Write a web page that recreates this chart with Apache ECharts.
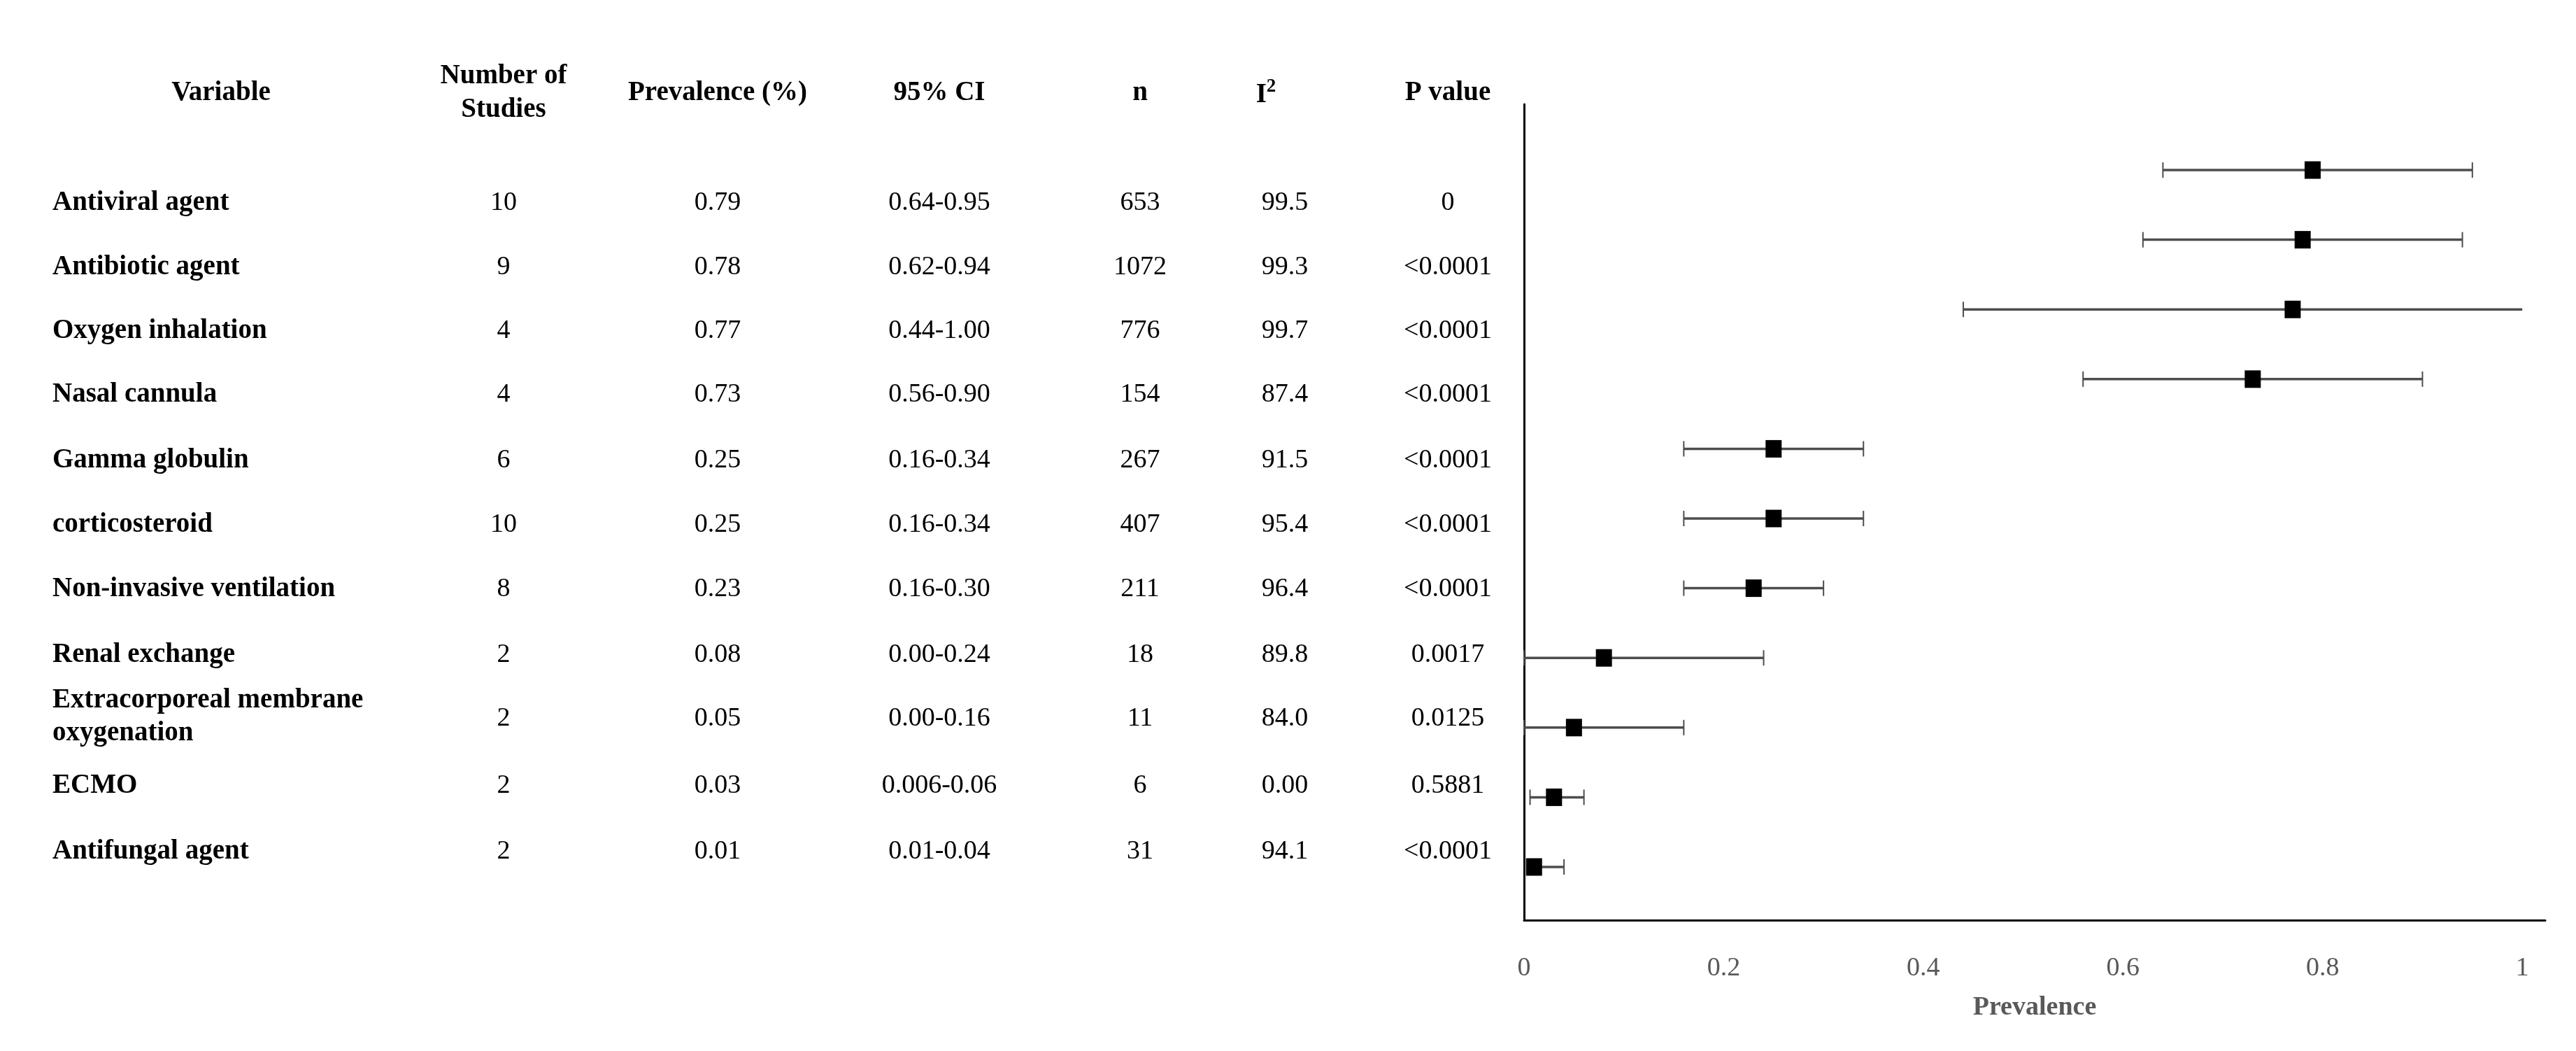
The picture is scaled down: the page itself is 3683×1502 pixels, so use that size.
<!DOCTYPE html>
<html>
<head>
<meta charset="utf-8">
<script src="https://cdn.jsdelivr.net/npm/echarts@6/dist/echarts.min.js"></script>
<style>
html,body{margin:0;padding:0;background:#fff;}
#chart{width:3683px;height:1502px;}
</style>
</head>
<body>
<div id="chart"></div>
<script>
// ---- data ----
const variables = ['Antiviral agent', 'Antibiotic agent', 'Oxygen inhalation', 'Nasal cannula', 'Gamma globulin', 'corticosteroid', 'Non-invasive ventilation', 'Renal exchange', 'Extracorporeal membrane\noxygenation', 'ECMO', 'Antifungal agent'];
const studies = [10, 9, 4, 4, 6, 10, 8, 2, 2, 2, 2];
const prevalence = [0.79, 0.78, 0.77, 0.73, 0.25, 0.25, 0.23, 0.08, 0.05, 0.03, 0.01];
const ciLow = [0.64, 0.62, 0.44, 0.56, 0.16, 0.16, 0.16, 0.00, 0.00, 0.006, 0.01];
const ciHigh = [0.95, 0.94, 1.00, 0.90, 0.34, 0.34, 0.30, 0.24, 0.16, 0.06, 0.04];
const ciText = ['0.64-0.95', '0.62-0.94', '0.44-1.00', '0.56-0.90', '0.16-0.34', '0.16-0.34', '0.16-0.30', '0.00-0.24', '0.00-0.16', '0.006-0.06', '0.01-0.04'];
const nTotal = [653, 1072, 776, 154, 267, 407, 211, 18, 11, 6, 31];
const i2Text = ['99.5', '99.3', '99.7', '87.4', '91.5', '95.4', '96.4', '89.8', '84.0', '0.00', '94.1'];
const pText = ['0', '<0.0001', '<0.0001', '<0.0001', '<0.0001', '<0.0001', '<0.0001', '0.0017', '0.0125', '0.5881', '<0.0001'];
const xTicks = [0, 0.2, 0.4, 0.6, 0.8, 1];
const headers = ['Variable', 'Number of\nStudies', 'Prevalence (%)', '95% CI', 'n', 'I2', 'P value'];

// ---- layout (positions only) ----
const FONT = 'Liberation Serif, Times New Roman, serif';
const colX = [75, 720, 1026, 1343, 1630, 1837, 2070];
const headerX = [316, 720, 1026, 1343, 1630, 1810, 2070];
const headerY = 133;
const rowY = [290, 382, 473, 564, 658, 750, 842, 936, 1027, 1123, 1217];

const graphics = [];
function txt(x, y, text, opts) {
  graphics.push({
    type: 'text', x: x, y: y, silent: true,
    style: Object.assign({
      text: text, fontFamily: FONT, fontSize: 38, fill: '#000',
      align: 'center', verticalAlign: 'middle'
    }, opts || {})
  });
}
// headers
headers.forEach((h, c) => {
  if (c === 5) {
    graphics.push({
      type: 'text', x: headerX[c], y: headerY, silent: true,
      style: {
        text: '{a|I}{s|2}', align: 'center', verticalAlign: 'middle',
        rich: {
          a: { fontFamily: FONT, fontSize: 39, fontWeight: 'bold', fill: '#000', lineHeight: 44, verticalAlign: 'bottom' },
          s: { fontFamily: FONT, fontSize: 27, fontWeight: 'bold', fill: '#000', lineHeight: 44, verticalAlign: 'top' }
        }
      }
    });
  } else {
    txt(headerX[c], headerY, h, { fontWeight: 'bold', fontSize: 39, lineHeight: 48 });
  }
});
// rows
variables.forEach((v, i) => {
  txt(colX[0], rowY[i] - (i === 8 ? 3 : 0), v, { fontWeight: 'bold', fontSize: 39, align: 'left', lineHeight: 47 });
  txt(colX[1], rowY[i], String(studies[i]));
  txt(colX[2], rowY[i], prevalence[i].toFixed(2));
  txt(colX[3], rowY[i], ciText[i]);
  txt(colX[4], rowY[i], String(nTotal[i]));
  txt(colX[5], rowY[i], i2Text[i]);
  txt(colX[6], rowY[i], pText[i]);
});

const rowIndex = variables.map((_, i) => i + 1);
const barData = variables.map((_, i) => [ciLow[i], ciHigh[i], rowIndex[i]]);
const pointData = variables.map((_, i) => [prevalence[i], rowIndex[i]]);

const chart = echarts.init(document.getElementById('chart'), null, { renderer: 'canvas' });
chart.setOption({
  backgroundColor: '#fff',
  animation: false,
  textStyle: { fontFamily: FONT },
  grid: { left: 2179, top: 149, width: 1460, height: 1166, containLabel: false },
  xAxis: {
    type: 'value', min: 0, max: 1.023, interval: 0.2,
    name: 'Prevalence', nameLocation: 'middle', nameGap: 106,
    nameTextStyle: { fontFamily: FONT, fontSize: 38, fontWeight: 'bold', color: '#595959' },
    axisLine: { show: true, onZero: false, lineStyle: { color: '#000', width: 3 } },
    axisTick: { show: false },
    splitLine: { show: false },
    axisLabel: {
      margin: 50, fontFamily: FONT, fontSize: 38, color: '#595959',
      formatter: function (v) {
        for (const t of xTicks) { if (Math.abs(t - v) < 1e-9) return String(t); }
        return '';
      }
    }
  },
  yAxis: {
    type: 'value', min: 0.056, max: 11.763, inverse: true,
    axisLine: { show: true, onZero: false, lineStyle: { color: '#000', width: 3 } },
    axisTick: { show: false }, axisLabel: { show: false }, splitLine: { show: false }
  },
  graphic: graphics,
  series: [
    {
      type: 'custom',
      data: barData,
      encode: { x: [0, 1], y: 2 },
      z: 2,
      renderItem: function (params, api) {
        const lo = api.value(0), hi = api.value(1), y = api.value(2);
        const p1 = api.coord([lo, y]);
        const p2 = api.coord([hi, y]);
        const cap = 11;
        const children = [
          { type: 'line', shape: { x1: p1[0], y1: p1[1], x2: p2[0], y2: p2[1] }, style: { stroke: '#4d4d4d', lineWidth: 3.5 } },
          { type: 'line', shape: { x1: p1[0], y1: p1[1] - cap, x2: p1[0], y2: p1[1] + cap }, style: { stroke: '#4d4d4d', lineWidth: 2 } }
        ];
        if (hi < 1) {
          children.push({ type: 'line', shape: { x1: p2[0], y1: p2[1] - cap, x2: p2[0], y2: p2[1] + cap }, style: { stroke: '#4d4d4d', lineWidth: 2 } });
        }
        return { type: 'group', children: children };
      }
    },
    {
      type: 'scatter',
      data: pointData,
      symbol: 'rect',
      symbolSize: [23, 25],
      itemStyle: { color: '#000', opacity: 1 },
      z: 3
    }
  ]
});
</script>
</body>
</html>
